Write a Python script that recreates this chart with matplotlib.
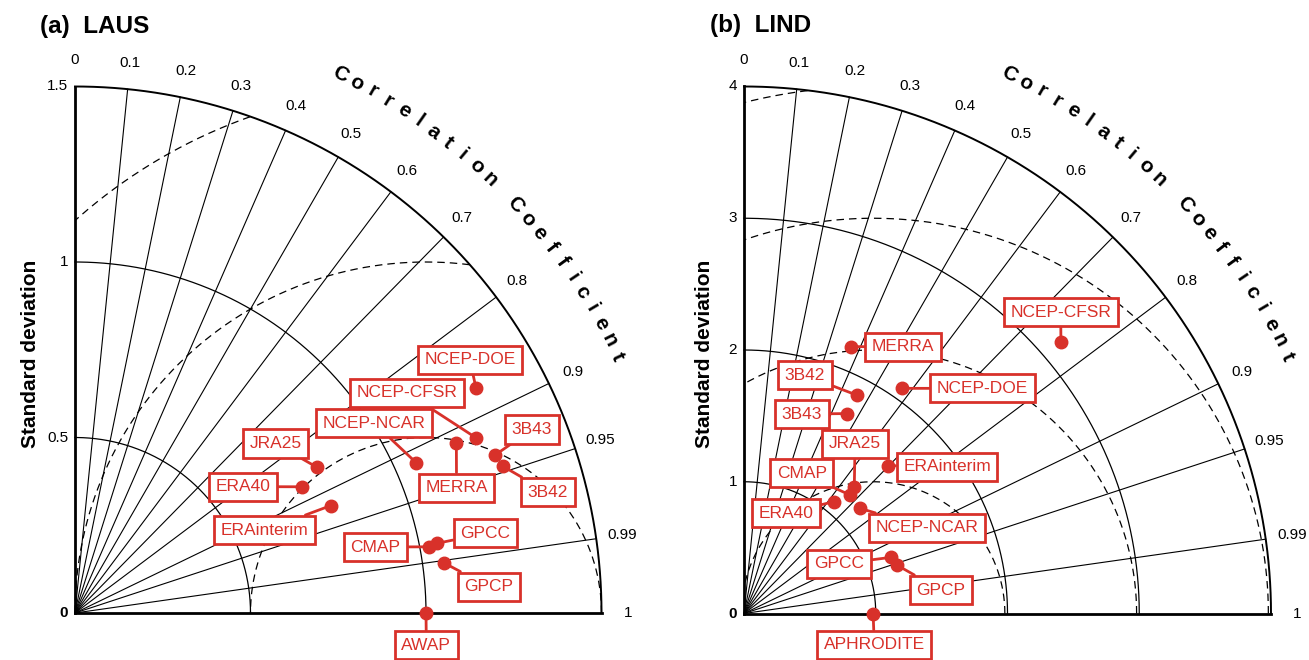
import numpy as np
import matplotlib.pyplot as plt

RED = '#d8312a'
W, H = 1309, 660

# ---- panel (a) LAUS ----
laus_names = ['AWAP', 'CMAP', 'GPCC', 'GPCP', 'ERA40', 'ERAinterim', 'JRA25',
              'MERRA', 'NCEP-NCAR', 'NCEP-CFSR', 'NCEP-DOE', '3B42', '3B43']
laus_std = [1.0, 1.027, 1.049, 1.062, 0.740, 0.791, 0.805,
            1.190, 1.062, 1.246, 1.310, 1.289, 1.279]
laus_corr = [1.0, 0.983, 0.982, 0.991, 0.874, 0.922, 0.857,
             0.913, 0.915, 0.916, 0.872, 0.946, 0.936]
laus_std_ticks = [0, 0.5, 1, 1.5]
laus_rms = [0.5, 1.0, 1.5]

# ---- panel (b) LIND ----
lind_names = ['APHRODITE', 'CMAP', 'GPCC', 'GPCP', 'ERA40', 'ERAinterim', 'JRA25',
              'MERRA', 'NCEP-NCAR', 'NCEP-CFSR', 'NCEP-DOE', '3B42', '3B43']
lind_std = [0.98, 1.207, 1.192, 1.216, 1.088, 1.568, 1.272,
            2.182, 1.188, 3.165, 2.087, 1.866, 1.708]
lind_corr = [1.0, 0.667, 0.934, 0.953, 0.626, 0.698, 0.658,
             0.372, 0.741, 0.760, 0.574, 0.461, 0.459]
lind_std_ticks = [0, 1, 2, 3, 4]
lind_rms = [1, 2, 3, 4]

corr_lines = [0.1, 0.2, 0.3, 0.4, 0.5, 0.6, 0.7, 0.8, 0.9, 0.95, 0.99]
corr_labels = [0, 0.1, 0.2, 0.3, 0.4, 0.5, 0.6, 0.7, 0.8, 0.9, 0.95, 0.99, 1]

# label box positions (in std units, x/y of the diagram)
laus_lab = {'AWAP': (1.001, -0.092), 'CMAP': (0.855, 0.188), 'GPCC': (1.169, 0.227),
            'GPCP': (1.179, 0.075), 'ERA40': (0.479, 0.360), 'ERAinterim': (0.541, 0.236),
            'JRA25': (0.571, 0.483), 'MERRA': (1.087, 0.357), 'NCEP-NCAR': (0.852, 0.541),
            'NCEP-CFSR': (0.946, 0.627), 'NCEP-DOE': (1.125, 0.721),
            '3B42': (1.347, 0.344), '3B43': (1.302, 0.523)}
lind_lab = {'APHRODITE': (0.989, -0.239), 'CMAP': (0.438, 1.066), 'GPCC': (0.721, 0.376),
            'GPCP': (1.495, 0.178), 'ERA40': (0.317, 0.761), 'ERAinterim': (1.541, 1.112),
            'JRA25': (0.843, 1.289), 'MERRA': (1.209, 2.025), 'NCEP-NCAR': (1.389, 0.649),
            'NCEP-CFSR': (2.404, 2.286), 'NCEP-DOE': (1.809, 1.709),
            '3B42': (0.463, 1.808), '3B43': (0.440, 1.514)}


def panel(ax, px0, px1, ox, oy, s, ticks, rms, names, std, corr, lab, title,
          title_dx, ylab_dx):
    smax = ticks[-1]
    ref = std[0]
    ax.set_xlim((px0 - ox) / s, (px1 - ox) / s)
    ax.set_ylim((oy - H) / s, oy / s)
    ax.axis('off')

    def P(px, py):
        return (px - ox) / s, (oy - py) / s

    t = np.linspace(0, np.pi / 2, 400)
    for r in ticks[1:-1]:
        ax.plot(r * np.cos(t), r * np.sin(t), color='k', lw=0.9)
    ax.plot(smax * np.cos(t), smax * np.sin(t), color='k', lw=1.4)
    for c in corr_lines:
        a = np.arccos(c)
        ax.plot([0, smax * np.cos(a)], [0, smax * np.sin(a)], color='k', lw=0.8)
    ax.plot([0, smax], [0, 0], color='k', lw=2)
    ax.plot([0, 0], [0, smax], color='k', lw=2)

    # centred RMS difference contours
    tt = np.linspace(0, np.pi, 1500)
    for r in rms:
        x = ref + r * np.cos(tt)
        y = r * np.sin(tt)
        m = (x < 0) | (np.hypot(x, y) > smax)
        x[m] = np.nan
        ax.plot(x, y, color='k', lw=0.9, ls=(0, (6, 4)))

    # correlation tick labels
    for c in corr_labels:
        a = np.arccos(c)
        ax.text(1.05 * smax * np.cos(a), 1.05 * smax * np.sin(a), f'{c:g}',
                ha='center', va='center', fontsize=11, family='Liberation Sans')
    # std tick labels
    for v in ticks:
        ax.text(-7 / s, v, f'{v:g}', ha='right', va='center', fontsize=11,
                family='Liberation Sans', fontweight='bold' if v == 0 else 'normal')

    # curved axis title
    word = 'Correlation Coefficient'
    ang = np.linspace(np.radians(63.8), np.radians(25.3), len(word))
    for ch, a in zip(word, ang):
        ax.text(1.14 * smax * np.cos(a), 1.14 * smax * np.sin(a), ch,
                rotation=np.degrees(a) - 90, ha='center', va='center',
                fontsize=15, fontweight='bold', family='Liberation Sans',
                rotation_mode='anchor')

    x, y = P(px0 + ylab_dx, 354)
    ax.text(x, y, 'Standard deviation', rotation=90, ha='center', va='center',
            fontsize=15, fontweight='bold', family='Liberation Sans')
    x, y = P(px0 + title_dx, 26)
    ax.text(x, y, title, ha='left', va='center', fontsize=17.5,
            fontweight='bold', family='Liberation Sans')

    # models
    for n, sd, c in zip(names, std, corr):
        a = np.arccos(c)
        xd, yd = sd * np.cos(a), sd * np.sin(a)
        ax.plot(xd, yd, 'o', color=RED, ms=9, zorder=5)
        ax.annotate(n, xy=(xd, yd), xytext=lab[n], ha='center', va='center',
                    color=RED, fontsize=12.5, family='Liberation Sans', zorder=6,
                    bbox=dict(boxstyle='square,pad=0.38', fc='white', ec=RED, lw=2),
                    arrowprops=dict(arrowstyle='-', color=RED, lw=2,
                                    shrinkA=0, shrinkB=0))


fig = plt.figure(figsize=(W / 100, H / 100), dpi=100)
ax1 = fig.add_axes([0, 0, 654 / W, 1])
ax2 = fig.add_axes([654 / W, 0, 1 - 654 / W, 1])

panel(ax1, 0, 654, 75, 613, 351.0, laus_std_ticks, laus_rms, laus_names,
      laus_std, laus_corr, laus_lab, '(a)  LAUS', 40, 30)
panel(ax2, 654, W, 744, 613.5, 131.75, lind_std_ticks, lind_rms, lind_names,
      lind_std, lind_corr, lind_lab, '(b)  LIND', 56, 51)

fig.savefig('out.png', dpi=100)
